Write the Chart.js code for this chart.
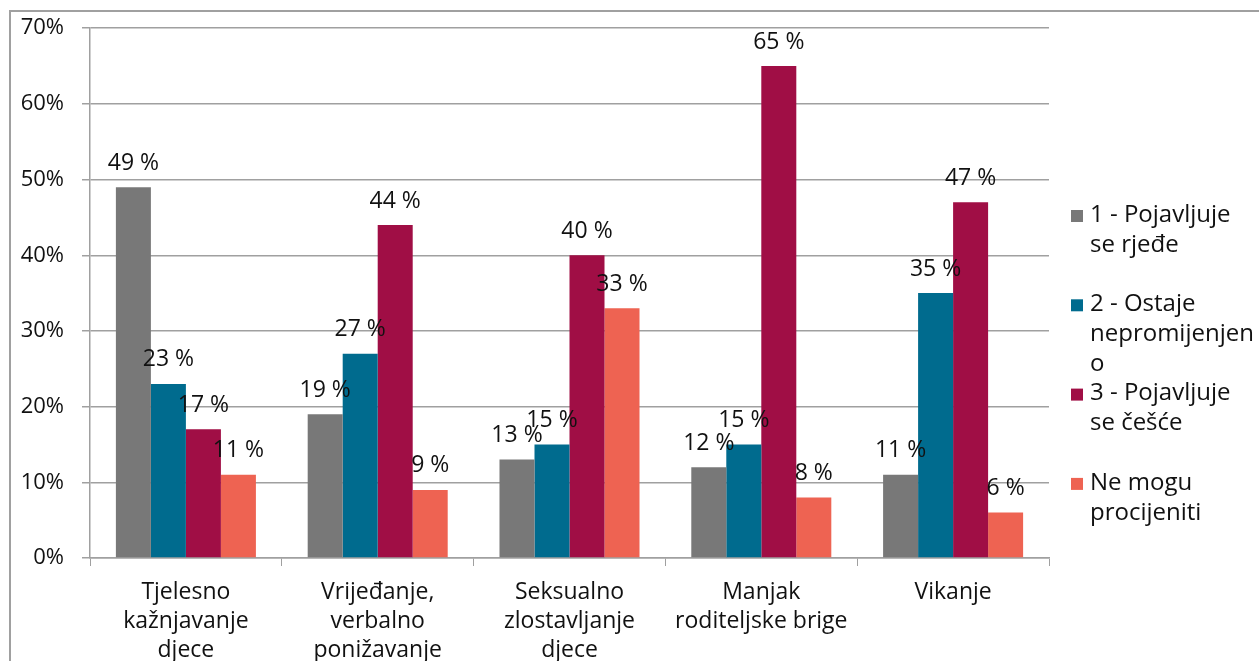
<!DOCTYPE html>
<html lang="hr">
<head>
  <meta charset="UTF-8">
  <title>Učestalost pojava</title>
  <script src="https://cdn.jsdelivr.net/npm/chart.js"></script>
  <style>
    html, body { margin: 0; padding: 0; background: #fff; overflow: hidden; }
    #wrap { position: relative; width: 1259px; height: 700px; margin-top: -3px; }
  </style>
</head>
<body>
  <div id="wrap"><canvas id="chart" width="1259" height="700"></canvas></div>

  <script>
    // data
    const categories = [
      ['Tjelesno', 'kažnjavanje', 'djece'],
      ['Vrijeđanje,', 'verbalno', 'ponižavanje'],
      ['Seksualno', 'zlostavljanje', 'djece'],
      ['Manjak', 'roditeljske brige'],
      ['Vikanje']
    ];
    const seriesNames = ['1 - Pojavljuje se rjeđe', '2 - Ostaje nepromijenjeno', '3 - Pojavljuje se češće', 'Ne mogu procijeniti'];
    const legendLines = [
      ['1 - Pojavljuje', 'se rjeđe'],
      ['2 - Ostaje', 'nepromijenjen', 'o'],
      ['3 - Pojavljuje', 'se češće'],
      ['Ne mogu', 'procijeniti']
    ];
    const rjede = [49, 19, 13, 12, 11];
    const nepromijenjeno = [23, 27, 15, 15, 35];
    const cesce = [17, 44, 40, 65, 47];
    const neMogu = [11, 9, 33, 8, 6];
    const yTicks = [0, 10, 20, 30, 40, 50, 60, 70];

    const colors = ['#787878', '#006b8e', '#a00e45', '#ee6352'];
    const FONT = '"Open Sans", "Noto Sans", sans-serif';

    const frame = {
      id: 'frame',
      beforeDraw(chart) {
        const c = chart.ctx;
        c.save();
        c.strokeStyle = '#a0a0a0';
        c.lineWidth = 2;
        c.beginPath();
        c.moveTo(10, 700); c.lineTo(10, 14); c.lineTo(1259, 14);
        c.stroke();
        c.restore();
      }
    };

    const valueLabels = {
      id: 'valueLabels',
      afterDatasetsDraw(chart) {
        const c = chart.ctx;
        c.save();
        c.font = '23px ' + FONT;
        c.fillStyle = '#111';
        c.textAlign = 'center';
        c.textBaseline = 'middle';
        chart.data.datasets.forEach((ds, i) => {
          chart.getDatasetMeta(i).data.forEach((bar, j) => {
            c.fillText(ds.data[j] + ' %', bar.x, bar.y - 24);
          });
        });
        c.restore();
      }
    };

    const sideLegend = {
      id: 'sideLegend',
      afterDraw(chart) {
        const c = chart.ctx;
        c.save();
        c.font = '24px ' + FONT;
        c.textBaseline = 'middle';
        c.textAlign = 'left';
        legendLines.forEach((lines, i) => {
          const y0 = 218 + i * 89.3;
          c.fillStyle = colors[i];
          c.fillRect(1071, y0 - 5, 12, 12);
          c.fillStyle = '#111';
          lines.forEach((t, k) => c.fillText(t, 1090, y0 + k * 30));
        });
        c.restore();
      }
    };

    new Chart(document.getElementById('chart'), {
      type: 'bar',
      data: {
        labels: categories,
        datasets: [rjede, nepromijenjeno, cesce, neMogu].map((d, i) => ({
          label: seriesNames[i],
          data: d,
          backgroundColor: colors[i],
          borderWidth: 0,
          categoryPercentage: 0.73,
          barPercentage: 1
        }))
      },
      options: {
        responsive: false,
        animation: false,
        devicePixelRatio: 1,
        layout: { padding: { left: 0, top: 22, right: 210, bottom: 0 } },
        plugins: { legend: { display: false }, tooltip: { enabled: false } },
        scales: {
          x: {
            offset: true,
            grid: { offset: true, drawOnChartArea: false, drawTicks: true, tickLength: 8, color: '#a0a0a0' },
            border: { color: '#a0a0a0', width: 1.5 },
            ticks: { color: '#111', font: { family: FONT, size: 23, lineHeight: 1.26 }, padding: 12, maxRotation: 0, autoSkip: false },
            afterFit(s) { s.height = 139; }
          },
          y: {
            min: 0, max: 70,
            afterBuildTicks(s) { s.ticks = yTicks.map(v => ({ value: v })); },
            grid: { color: '#a0a0a0', lineWidth: 1.5, tickLength: 8 },
            border: { color: '#a0a0a0', width: 1.5 },
            ticks: { color: '#111', font: { family: FONT, size: 22 }, padding: 18, callback: v => v + '%' },
            afterFit(s) { s.width = 90; }
          }
        }
      },
      plugins: [frame, valueLabels, sideLegend]
    });
  </script>
</body>
</html>
